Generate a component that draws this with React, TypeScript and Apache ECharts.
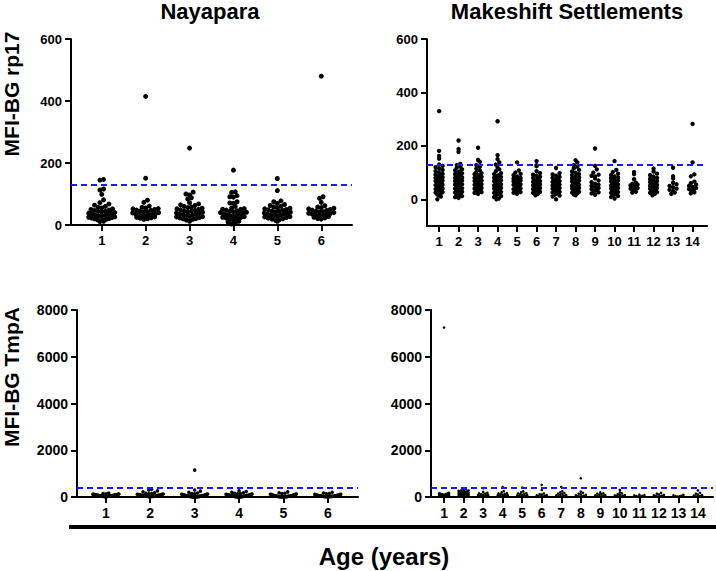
import React, { useEffect, useRef } from "react";
import * as echarts from "echarts";

// ---------- categories & ticks ----------
const nayaAges = [1, 2, 3, 4, 5, 6];
const makeAges = [1, 2, 3, 4, 5, 6, 7, 8, 9, 10, 11, 12, 13, 14];
const rp17Ticks = [0, 200, 400, 600];
const tmpaTicks = [0, 2000, 4000, 6000, 8000];
const rp17Cutoff = 130;
const tmpaCutoff = 400;

// ---------- Nayapara, rp17 ----------
const nayaRp17_1 = [147, 145, 116, 113, 99, 81, 72, 68, 64, 60, 57, 55, 52, 50, 48, 47, 45, 44, 42, 40, 38, 37, 35, 34, 32, 31, 29, 28, 26, 25, 24, 22, 21, 20, 18, 17, 15, 14, 12, 11];
const nayaRp17_2 = [415, 151, 80, 73, 61, 57, 55, 53, 52, 50, 48, 47, 45, 43, 42, 40, 39, 37, 36, 35, 33, 32, 30, 29, 28, 26, 25, 23, 22, 20, 18];
const nayaRp17_3 = [248, 106, 100, 97, 88, 84, 72, 68, 65, 63, 60, 58, 56, 54, 52, 50, 49, 47, 45, 44, 42, 41, 39, 38, 36, 35, 33, 32, 30, 29, 27, 26, 24, 23, 21, 20, 18, 16, 14, 12];
const nayaRp17_4 = [177, 107, 105, 95, 91, 90, 75, 71, 70, 60, 55, 53, 51, 50, 48, 46, 44, 43, 41, 40, 38, 36, 35, 33, 32, 30, 28, 27, 25, 24, 22, 20, 18, 15, 12, 9, 6, 3];
const nayaRp17_5 = [150, 111, 78, 75, 70, 66, 63, 60, 58, 56, 54, 52, 50, 49, 47, 45, 44, 42, 41, 39, 38, 36, 35, 33, 32, 30, 29, 27, 26, 24, 22, 20, 19, 17, 15, 12];
const nayaRp17_6 = [480, 91, 86, 73, 62, 58, 56, 54, 52, 50, 48, 47, 45, 43, 42, 40, 38, 37, 35, 34, 32, 30, 29, 27, 25, 23, 21, 19];

// ---------- Makeshift settlements, rp17 ----------
const makeRp17_1 = [330, 181, 162, 152, 130, 125, 120, 115, 110, 105, 100, 95, 92, 88, 85, 82, 80, 77, 75, 72, 70, 68, 65, 62, 60, 58, 55, 53, 50, 48, 45, 43, 40, 38, 35, 32, 30, 27, 25, 22, 18, 15, 10, 0];
const makeRp17_2 = [220, 188, 178, 132, 128, 122, 118, 112, 108, 104, 100, 97, 94, 90, 88, 85, 82, 80, 78, 75, 73, 70, 68, 66, 64, 62, 60, 58, 56, 55, 53, 51, 50, 48, 46, 45, 43, 41, 40, 38, 36, 34, 32, 30, 28, 25, 22, 20, 17, 15, 12, 8, 5];
const makeRp17_3 = [193, 147, 140, 128, 122, 115, 108, 102, 98, 94, 90, 87, 84, 80, 78, 75, 72, 70, 68, 65, 63, 60, 58, 56, 54, 52, 50, 48, 46, 44, 42, 40, 38, 36, 34, 32, 30, 27, 24, 20];
const makeRp17_4 = [292, 165, 150, 138, 130, 118, 112, 105, 98, 94, 90, 86, 83, 80, 76, 73, 70, 67, 64, 61, 58, 55, 52, 50, 47, 45, 42, 40, 37, 35, 32, 30, 27, 24, 20, 16, 12, 8, 3, 0];
const makeRp17_5 = [138, 108, 100, 95, 90, 85, 80, 77, 74, 70, 67, 64, 61, 58, 56, 54, 51, 48, 46, 44, 41, 38, 36, 33, 30, 27, 24, 20];
const makeRp17_6 = [143, 128, 124, 105, 98, 92, 88, 84, 80, 76, 72, 68, 65, 62, 58, 55, 52, 48, 45, 42, 38, 35, 32, 28, 24, 20, 15];
const makeRp17_7 = [117, 98, 93, 88, 84, 80, 76, 72, 68, 65, 62, 58, 55, 52, 48, 45, 42, 40, 38, 35, 33, 30, 28, 25, 22, 18, 14, 10, 0];
const makeRp17_8 = [146, 138, 128, 122, 116, 110, 104, 99, 94, 90, 86, 82, 78, 74, 70, 66, 63, 60, 57, 54, 51, 48, 45, 42, 40, 37, 34, 31, 28, 25, 22, 18, 15];
const makeRp17_9 = [190, 125, 112, 100, 92, 88, 85, 78, 70, 64, 58, 54, 50, 46, 42, 38, 34, 30, 26, 22, 17];
const makeRp17_10 = [143, 110, 102, 96, 90, 86, 82, 78, 74, 70, 67, 64, 61, 58, 55, 52, 50, 47, 45, 42, 40, 37, 35, 32, 30, 27, 24, 20, 16, 12, 8, 3];
const makeRp17_11 = [102, 94, 75, 62, 58, 55, 52, 50, 48, 46, 44, 42, 40, 38, 35, 32, 28, 25];
const makeRp17_12 = [115, 104, 96, 90, 85, 80, 76, 72, 68, 64, 60, 57, 54, 51, 48, 45, 42, 39, 36, 33, 30, 27, 24, 20, 15];
const makeRp17_13 = [118, 86, 78, 62, 56, 50, 45, 40, 35, 30, 25, 20];
const makeRp17_14 = [282, 138, 93, 86, 66, 60, 55, 50, 46, 42, 38, 34, 30, 26, 22];

// ---------- Nayapara, TmpA ----------
const nayaTmpa_1 = [165, 150, 140, 130, 120, 115, 110, 105, 100, 96, 92, 88, 85, 82, 78, 75, 72, 70, 68, 65, 62, 60, 58, 55, 52, 50, 48, 45, 42, 40, 38, 35, 32, 30, 28, 25, 22, 20, 18, 15];
const nayaTmpa_2 = [330, 300, 260, 220, 180, 160, 150, 140, 130, 120, 112, 105, 98, 92, 86, 80, 75, 70, 65, 60, 55, 50, 45, 40, 36, 32, 28, 24, 20, 16, 12];
const nayaTmpa_3 = [1150, 300, 250, 200, 170, 150, 140, 130, 120, 112, 105, 98, 92, 86, 80, 75, 70, 66, 62, 58, 54, 50, 46, 42, 38, 35, 32, 29, 26, 23, 20, 18, 16, 14, 12, 10, 8, 6, 4, 2];
const nayaTmpa_4 = [270, 230, 200, 180, 160, 150, 140, 130, 120, 112, 105, 98, 92, 86, 80, 75, 70, 65, 60, 56, 52, 48, 44, 40, 36, 33, 30, 27, 24, 21, 18, 15, 12, 10, 8, 6, 4, 2];
const nayaTmpa_5 = [220, 180, 160, 145, 130, 120, 110, 102, 95, 88, 82, 76, 70, 65, 60, 56, 52, 48, 44, 40, 37, 34, 31, 28, 25, 22, 20, 18, 16, 14, 12, 10, 8, 6, 4, 2];
const nayaTmpa_6 = [200, 170, 150, 135, 120, 110, 100, 92, 85, 78, 72, 66, 60, 55, 50, 46, 42, 38, 34, 30, 27, 24, 21, 18, 15, 12, 9, 6];

// ---------- Makeshift settlements, TmpA ----------
const makeTmpa_1 = [7250, 180, 160, 150, 140, 130, 120, 110, 100, 95, 90, 85, 80, 75, 70, 65, 60, 55, 50, 45, 40, 35, 30, 25, 20, 15, 10];
const makeTmpa_2 = [340, 310, 290, 280, 260, 250, 240, 230, 220, 210, 200, 190, 180, 170, 160, 150, 140, 130, 120, 110, 100, 95, 90, 85, 80, 75, 70, 65, 60, 55, 50, 45, 40, 35, 30, 25, 20, 15, 10];
const makeTmpa_3 = [380, 220, 180, 160, 140, 120, 100, 90, 80, 70, 60, 50, 40, 30, 20, 10];
const makeTmpa_4 = [420, 250, 200, 170, 150, 130, 110, 95, 80, 70, 60, 50, 40, 30, 20];
const makeTmpa_5 = [400, 240, 200, 170, 150, 130, 110, 95, 80, 65, 50, 40, 30, 20];
const makeTmpa_6 = [520, 300, 150, 120, 100, 85, 70, 55, 40, 30, 20];
const makeTmpa_7 = [430, 240, 200, 170, 140, 120, 100, 85, 70, 55, 40, 30, 20];
const makeTmpa_8 = [800, 230, 180, 140, 110, 90, 70, 55, 40, 30, 20];
const makeTmpa_9 = [200, 160, 140, 120, 100, 85, 70, 55, 40, 30, 20];
const makeTmpa_10 = [300, 200, 150, 120, 100, 80, 65, 50, 40, 30, 20];
const makeTmpa_11 = [100, 80, 65, 50, 40, 30, 20];
const makeTmpa_12 = [180, 140, 110, 90, 70, 55, 40, 30, 20];
const makeTmpa_13 = [90, 70, 55, 40, 30, 20];
const makeTmpa_14 = [280, 180, 140, 100, 80, 60, 45, 30, 20];

const nayaRp17 = [nayaRp17_1, nayaRp17_2, nayaRp17_3, nayaRp17_4, nayaRp17_5, nayaRp17_6];
const makeRp17 = [makeRp17_1, makeRp17_2, makeRp17_3, makeRp17_4, makeRp17_5, makeRp17_6, makeRp17_7, makeRp17_8, makeRp17_9, makeRp17_10, makeRp17_11, makeRp17_12, makeRp17_13, makeRp17_14];
const nayaTmpa = [nayaTmpa_1, nayaTmpa_2, nayaTmpa_3, nayaTmpa_4, nayaTmpa_5, nayaTmpa_6];
const makeTmpa = [makeTmpa_1, makeTmpa_2, makeTmpa_3, makeTmpa_4, makeTmpa_5, makeTmpa_6, makeTmpa_7, makeTmpa_8, makeTmpa_9, makeTmpa_10, makeTmpa_11, makeTmpa_12, makeTmpa_13, makeTmpa_14];

const FONT = '"Liberation Sans", Arial, Helvetica, sans-serif';

// beeswarm layout: bins values into rows, spreads each row horizontally (lowest value in the middle)
function swarm(groups: number[][], ages: number[], pxX: number, pxY: number, diam: number, maxW: number, gap: number) {
  const pts: number[][] = [];
  const binU = (diam * 0.85) / pxY;
  groups.forEach((vals, gi) => {
    const cat = ages[gi];
    const bins = new Map<number, number[]>();
    vals.forEach((v) => {
      const b = Math.floor(v / binU);
      if (!bins.has(b)) bins.set(b, []);
      bins.get(b)!.push(v);
    });
    bins.forEach((arr) => {
      arr.sort((a, b) => a - b);
      const n = arr.length;
      let sp = diam * gap;
      if (n > 1 && (n - 1) * sp > maxW) sp = maxW / (n - 1);
      const slots: number[] = [];
      for (let i = 0; i < n; i++) slots.push((i - (n - 1) / 2) * sp);
      slots.sort((a, b) => Math.abs(a) - Math.abs(b) || a - b);
      arr.forEach((v, i) => pts.push([cat + slots[i] / pxX, v]));
    });
  });
  return pts;
}

const panels = [
  { left: 71, top: 39, width: 281, height: 186, xMin: 0.3, xMax: 6.7, yMin: 0, yMax: 600, ages: nayaAges, yTicks: rp17Ticks, groups: nayaRp17, cutoff: rp17Cutoff, size: 5, maxW: 26, gap: 0.72, fs: 13 },
  { left: 427, top: 39, width: 280, height: 187, xMin: 0.38, xMax: 14.74, yMin: -100, yMax: 600, ages: makeAges, yTicks: rp17Ticks, groups: makeRp17, cutoff: rp17Cutoff, size: 4.4, maxW: 7, gap: 0.8, fs: 13 },
  { left: 77, top: 310, width: 281, height: 187, xMin: 0.35, xMax: 6.68, yMin: 0, yMax: 8000, ages: nayaAges, yTicks: tmpaTicks, groups: nayaTmpa, cutoff: tmpaCutoff, size: 3.6, maxW: 26, gap: 0.8, fs: 14 },
  { left: 431, top: 310, width: 282, height: 187, xMin: 0.33, xMax: 14.77, yMin: 0, yMax: 8000, ages: makeAges, yTicks: tmpaTicks, groups: makeTmpa, cutoff: tmpaCutoff, size: 2.6, maxW: 10, gap: 0.8, fs: 14 },
];

export default function App() {
  const ref = useRef<HTMLDivElement>(null);
  useEffect(() => {
    if (!ref.current) return;
    const chart = echarts.init(ref.current, undefined, { renderer: "svg" });
    const axisLineStyle = { color: "#000", width: 2 };
    const option: any = {
      animation: false,
      backgroundColor: "#fff",
      grid: panels.map((p) => ({ left: p.left, top: p.top, width: p.width, height: p.height, containLabel: false })),
      xAxis: panels.map((p, i) => ({
        gridIndex: i,
        type: "value",
        min: p.xMin,
        max: p.xMax,
        splitLine: { show: false },
        axisLine: { show: true, onZero: false, lineStyle: axisLineStyle },
        axisTick: { show: true, customValues: p.ages, length: 6, lineStyle: axisLineStyle },
        axisLabel: { customValues: p.ages, formatter: (v: number) => String(v), color: "#000", fontWeight: "bold", fontSize: p.fs, fontFamily: FONT, margin: 9 },
      })),
      yAxis: panels.map((p, i) => ({
        gridIndex: i,
        type: "value",
        min: p.yMin,
        max: p.yMax,
        splitLine: { show: false },
        axisLine: { show: true, onZero: false, lineStyle: axisLineStyle },
        axisTick: { show: true, customValues: p.yTicks, length: 6, lineStyle: axisLineStyle },
        axisLabel: { customValues: p.yTicks, formatter: (v: number) => String(v), color: "#000", fontWeight: "bold", fontSize: p.fs, fontFamily: FONT, margin: 9 },
      })),
      series: panels.map((p, i) => ({
        type: "scatter",
        xAxisIndex: i,
        yAxisIndex: i,
        silent: true,
        symbolSize: p.size,
        itemStyle: { color: "#000", opacity: 1 },
        data: swarm(p.groups, p.ages, p.width / (p.xMax - p.xMin), p.height / (p.yMax - p.yMin), p.size, p.maxW, p.gap),
        markLine: {
          silent: true,
          symbol: "none",
          label: { show: false },
          lineStyle: { color: "#1a1aff", type: [6, 4], width: 2 },
          data: [{ yAxis: p.cutoff }],
        },
      })),
      graphic: [
        { type: "text", x: 210, y: 11, style: { text: "Nayapara", font: `bold 22px ${FONT}`, fill: "#000", textAlign: "center", textVerticalAlign: "middle" } },
        { type: "text", x: 567, y: 11, style: { text: "Makeshift Settlements", font: `bold 22px ${FONT}`, fill: "#000", textAlign: "center", textVerticalAlign: "middle" } },
        { type: "text", x: 11, y: 94, rotation: Math.PI / 2, style: { text: "MFI-BG rp17", font: `bold 21px ${FONT}`, fill: "#000", textAlign: "center", textVerticalAlign: "middle" } },
        { type: "text", x: 11, y: 377, rotation: Math.PI / 2, style: { text: "MFI-BG TmpA", font: `bold 21px ${FONT}`, fill: "#000", textAlign: "center", textVerticalAlign: "middle" } },
        { type: "line", shape: { x1: 69, y1: 527, x2: 716, y2: 527 }, style: { stroke: "#000", lineWidth: 4 } },
        { type: "text", x: 384, y: 556, style: { text: "Age (years)", font: `bold 24px ${FONT}`, fill: "#000", textAlign: "center", textVerticalAlign: "middle" } },
      ],
    };
    chart.setOption(option);
    return () => chart.dispose();
  }, []);
  return <div ref={ref} style={{ position: "fixed", left: 0, top: 0, width: 716, height: 571 }} />;
}
